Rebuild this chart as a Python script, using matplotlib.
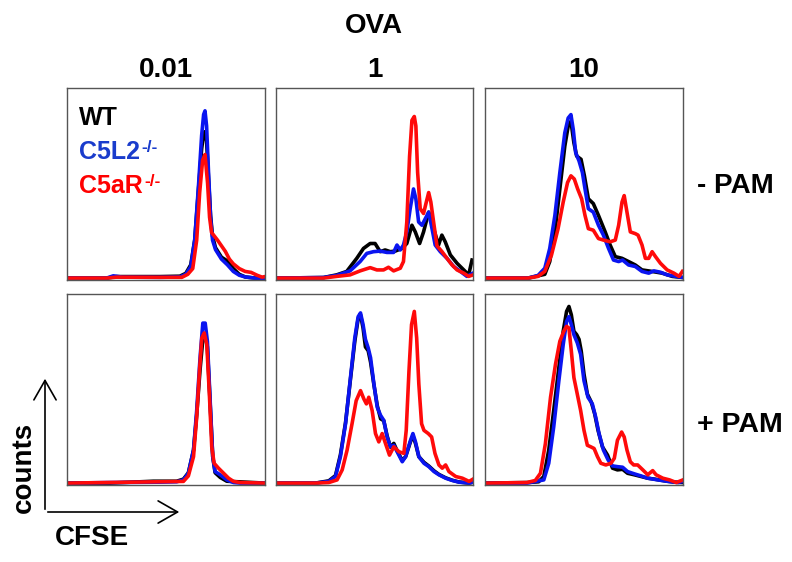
import matplotlib
matplotlib.use("Agg")
import matplotlib.pyplot as plt
from matplotlib.patches import FancyArrowPatch

plt.rcParams["font.family"] = ["Liberation Sans", "DejaVu Sans"]
plt.rcParams["font.weight"] = "bold"

# CFSE axis in % of panel width, counts in % of panel height
ova_doses = ["0.01", "1", "10"]
pam_labels = ["- PAM", "+ PAM"]
strains = ["WT", "C5L2", "C5aR"]
strain_colors = {"WT": "#000000", "C5L2": "#0a14f0", "C5aR": "#ff0a0a"}
text_colors = {"WT": "#000000", "C5L2": "#1a3ccc", "C5aR": "#ff0000"}

# -PAM, OVA 0.01
a_wt_x = [0, 20, 25, 47, 57, 60, 62.5, 64.5, 66.5, 68, 69, 69.7, 70.5, 71.5, 72.5, 73.5, 75, 78, 81, 84, 87, 90, 95, 100]
a_wt_y = [0, 0, 0.8, 0.8, 1, 2.5, 7, 20, 48, 68, 76, 77, 72, 52, 33, 22, 16, 11, 9, 5, 2, 0.6, 0, 0]
a_c5l2_x = [0, 20, 23.4, 28, 47, 57, 60, 62.5, 64.5, 66.5, 68, 69, 69.7, 70.5, 71.5, 72.5, 73.5, 75, 78, 81, 84, 87, 90, 95, 100]
a_c5l2_y = [0, 0, 1.2, 0.5, 0.4, 0.6, 2, 6, 20, 50, 75, 86, 88, 80, 55, 32, 20, 15, 10, 7, 3.5, 1.5, 0.6, 0, 0]
a_c5ar_x = [0, 20, 25, 47, 58, 61, 63.5, 65.5, 67, 68.5, 69.7, 71, 72, 73, 74.5, 76, 78, 80, 82, 84, 87, 90, 93, 96, 98.5, 100]
a_c5ar_y = [0, 0, 0.5, 0.4, 0.4, 2, 5, 20, 45, 62, 65, 50, 32, 24, 22, 20, 17, 14, 10, 7.5, 5, 3.5, 3, 1.5, 0.5, 0.8]

# -PAM, OVA 1
b_wt_x = [0, 24.1, 30.8, 35.9, 41.0, 44.4, 47.8, 50.3, 52.9, 55.4, 58.0, 60.5, 63.9, 66.4, 69.0, 70.7, 72.9, 74.9, 77.5, 80.0, 82.5, 84.2, 85.9, 88.5, 91.9, 95.3, 97.8, 99.5]
b_wt_y = [0, 0.3, 1.7, 3.5, 10.4, 15.6, 18.2, 18.2, 13.9, 14.8, 13.9, 14.2, 15.6, 18.2, 27.8, 24.3, 18.2, 24.3, 34.7, 26, 17.4, 22.6, 19.1, 12.2, 7.8, 4.3, 1.7, 9.5]
b_c5l2_x = [0, 24.1, 30.8, 37.6, 42.7, 46.1, 49.5, 52.9, 56.3, 59.7, 61.4, 63.1, 64.7, 66.4, 68.1, 69.8, 71.0, 72.4, 74.1, 75.8, 77.5, 79.2, 80.8, 83.4, 86.8, 90.2, 93.6, 96.9, 100]
b_c5l2_y = [0, 0.3, 1.4, 3.8, 8.7, 13, 13.9, 14.2, 13.5, 13.5, 17.4, 14.8, 17.4, 24.3, 36.5, 46.9, 41.7, 29.5, 27.8, 31.3, 34.7, 26, 17.4, 13.9, 10.4, 6.1, 3.5, 0.9, 2.6]
b_c5ar_x = [0, 24.1, 30.8, 37.6, 42.7, 47.8, 51.2, 54.6, 57.1, 59.7, 63.1, 64.7, 66.4, 67.8, 69.0, 70.2, 71.0, 71.9, 73.2, 74.9, 76.3, 77.5, 78.6, 80.0, 81.7, 84.2, 86.8, 89.3, 91.9, 95.3, 97.8, 100]
b_c5ar_y = [0, 0, 0.9, 1.7, 3.8, 5.5, 4.3, 4.3, 5.7, 3.8, 5.2, 8.7, 29.5, 64, 83, 85, 80, 55.5, 36.5, 34, 40, 45, 40, 29.5, 17, 14, 10.4, 7, 4.3, 2.6, 0.9, 1.7]

# -PAM, OVA 10
c_wt_x = [0, 21.7, 30.2, 32.7, 35.3, 37.8, 40.3, 42.0, 43.4, 44.9, 46.3, 48.5, 50.2, 52.2, 54.7, 57.3, 60.7, 63.2, 65.8, 69.2, 72.5, 75.9, 79.3, 84.4, 89.5, 94.6, 100]
c_wt_y = [0, 0, 2, 8.7, 24.3, 46.9, 69.4, 79.9, 82.5, 71.2, 64.2, 62.5, 53.8, 41.7, 39.2, 33, 24.3, 17.4, 11.3, 10.4, 8.7, 6.9, 4.3, 3.5, 2.6, 0.9, 0.3]
c_c5l2_x = [0, 21.7, 26.8, 30.2, 32.7, 35.3, 37.8, 40.3, 42.0, 43.4, 44.6, 45.8, 47.5, 49.2, 50.5, 52.2, 54.7, 57.3, 59.8, 62.4, 64.9, 67.5, 69.5, 72.5, 75.9, 79.3, 82.7, 85.3, 88.6, 92.0, 96.3, 100]
c_c5l2_y = [0, 0, 1.4, 5.2, 15.6, 33, 55.5, 76.4, 84.2, 86, 78, 66, 61.6, 55.5, 47, 36.5, 34.7, 27.8, 22.6, 15.6, 9.5, 8.7, 9.5, 6.9, 6.1, 3.5, 2.6, 3.8, 3.1, 1.7, 0.9, 0.3]
c_c5ar_x = [0, 21.7, 26.8, 30.2, 33.6, 36.9, 39.5, 41.7, 43.4, 45.1, 46.8, 48.8, 50.5, 52.2, 54.7, 57.3, 59.8, 63.2, 65.8, 67.5, 69.2, 70.3, 71.7, 73.4, 75.9, 77.3, 79.3, 81.0, 82.7, 84.4, 86.1, 88.6, 92.0, 95.4, 98.0, 99.7]
c_c5ar_y = [0, 0, 0.9, 3.5, 12.2, 26, 40, 50.3, 53.8, 52.1, 46.9, 41.7, 33, 26, 25.2, 20.8, 20, 19.1, 20, 27.8, 40, 43.4, 34.7, 24.3, 23.4, 22.6, 17.4, 10.4, 10.4, 13.9, 11.3, 7.8, 4.3, 2.6, 0.9, 3.5]

# +PAM, OVA 0.01
d_wt_x = [0, 21.6, 43.6, 55.4, 58.8, 61.3, 63.9, 65.5, 67.2, 68.6, 69.8, 70.9, 72.3, 73.6, 74.8, 77.4, 80.7, 100]
d_wt_y = [0, 0, 1, 1, 2.1, 5.5, 17.5, 36, 60, 76, 79, 72, 42, 14, 5.5, 3, 1, 0]
d_c5l2_x = [0, 21.6, 47.0, 55.4, 58.8, 61.3, 63.9, 65.5, 67.2, 68.6, 69.8, 70.9, 72.3, 73.6, 74.8, 77.4, 80.7, 84.1, 87.5, 100]
d_c5l2_y = [0, 0.3, 0.5, 0.7, 1.7, 5.2, 17.5, 38.4, 66.3, 84.6, 84.6, 75, 43.6, 14, 6.1, 4.4, 1.7, 0.3, 0, 0]
d_c5ar_x = [0, 58.8, 61.3, 63.9, 65.5, 66.9, 68.1, 69.3, 70.6, 71.9, 73.1, 74.3, 76.5, 79.1, 81.6, 84.1, 87.5, 100]
d_c5ar_y = [0, 0.9, 3.8, 14, 35, 59.3, 76.8, 79.4, 73.3, 47.1, 19.2, 10.5, 7.9, 5.2, 2.6, 0.9, 0.3, 0]

# +PAM, OVA 1
e_x = [0, 20.0, 26.8, 30.2, 32.7, 35.3, 37.8, 40.0, 41.7, 42.9, 44.2, 45.4, 46.8, 48.0, 49.7, 51.4, 53.1, 54.7, 56.4, 58.1, 59.8, 61.5, 64.1, 65.8, 68.3, 69.5, 70.8, 72.5, 75.1, 77.6, 80.2, 82.7, 86.1, 89.5, 92.9, 98.0, 100]
e_wt_y = [0, 0, 1.2, 4, 15, 32, 55, 75, 87, 89, 82, 72, 70, 64, 52, 41, 34, 33, 25, 19, 21, 17, 12, 14, 22, 25, 21, 14, 11, 9, 6.5, 4.6, 2.8, 1.5, 0.6, 0, 0.5]
e_c5l2_y = [0, 0, 0.9, 3.5, 14, 31.4, 55.8, 76.8, 88, 90, 83.8, 76, 71.5, 66.3, 52.4, 40.1, 35.8, 33.2, 24.4, 19.2, 20, 16.6, 11.3, 14, 22.7, 26.2, 21.8, 14, 10.5, 8.7, 6.1, 4.4, 2.6, 1.4, 0.5, 0, 0.5]
e_c5ar_x = [0, 20.0, 26.8, 31.0, 33.6, 36.1, 38.6, 40.7, 42.9, 44.6, 45.9, 47.1, 48.8, 50.5, 52.2, 53.9, 55.6, 57.6, 59.8, 62.4, 64.9, 66.1, 67.5, 68.8, 70.2, 71.4, 72.5, 73.9, 75.1, 77.3, 79.0, 80.7, 82.7, 84.4, 86.1, 87.8, 91.2, 94.6, 98.0, 100]
e_c5ar_y = [0, 0, 0.3, 1.7, 7, 17.5, 31.4, 43.6, 48.9, 44.5, 41.9, 45.4, 38.4, 26.2, 21.8, 26.2, 20.9, 14.8, 19.2, 16.6, 15.7, 27.9, 59.3, 83.8, 90.8, 76.8, 52.4, 31.4, 27.9, 26.2, 24.4, 15.7, 9.6, 7.9, 9.6, 6.1, 3.5, 2.6, 0.9, 2.1]

# +PAM, OVA 10
f_wt_x = [0, 21.2, 27.1, 29.7, 32.2, 34.7, 37.3, 39.5, 41.2, 42.4, 43.6, 44.9, 46.3, 47.5, 48.6, 50.0, 51.7, 53.7, 55.4, 57.1, 59.3, 61.9, 64.4, 66.9, 69.5, 72.0, 75.4, 78.8, 82.2, 85.6, 90.7, 95.8, 100]
f_wt_y = [0, 0.3, 0.7, 3.5, 17.5, 38.4, 61, 80.3, 90.8, 93.4, 89, 80.3, 78.5, 76, 69.8, 57.6, 47.1, 42.8, 36.6, 27.9, 19.2, 14.8, 7.9, 7, 7.3, 5.2, 4.4, 3.5, 2.6, 2.1, 1.2, 0.5, 0.3]
f_c5l2_x = [0, 21.2, 29.7, 32.2, 34.7, 37.3, 39.5, 41.2, 42.4, 43.6, 44.9, 46.6, 48.3, 50.0, 52.0, 54.2, 55.9, 57.6, 59.8, 62.2, 64.4, 66.9, 69.5, 72.0, 75.4, 78.8, 82.2, 87.3, 92.4, 97.5, 100]
f_c5l2_y = [0, 0, 1.7, 10.5, 29.7, 54.1, 73.3, 85.5, 88, 83.8, 78.5, 74.2, 68.1, 54.1, 45.4, 41.9, 34.9, 26.2, 17.5, 12.2, 9.1, 8.7, 8.4, 6.1, 4.9, 3.8, 2.6, 1.7, 0.9, 0.3, 0.9]
f_c5ar_x = [0, 21.2, 25.4, 28.0, 30.5, 33.1, 35.6, 37.8, 39.8, 41.2, 42.4, 43.6, 44.9, 46.6, 48.3, 50.0, 51.7, 53.4, 55.1, 56.8, 58.5, 61.0, 63.6, 65.3, 66.9, 69.0, 70.3, 71.7, 73.4, 75.1, 77.1, 79.7, 82.2, 84.7, 86.4, 89.8, 93.2, 96.6, 100]
f_c5ar_y = [0, 0.3, 1.4, 5.2, 20.9, 45.4, 62.8, 75, 80.3, 82.9, 82, 69.8, 55.8, 47.1, 38.4, 27.9, 20, 19.2, 18.3, 14, 10.5, 9.6, 10.5, 13.1, 22.7, 27, 24.4, 17.5, 11.3, 9.6, 9.6, 7, 4.4, 6.6, 4.4, 2.6, 1.7, 0.3, 1.7]

panels = [
    [  # -PAM row
        [(a_wt_x, a_wt_y), (a_c5l2_x, a_c5l2_y), (a_c5ar_x, a_c5ar_y)],
        [(b_wt_x, b_wt_y), (b_c5l2_x, b_c5l2_y), (b_c5ar_x, b_c5ar_y)],
        [(c_wt_x, c_wt_y), (c_c5l2_x, c_c5l2_y), (c_c5ar_x, c_c5ar_y)],
    ],
    [  # +PAM row
        [(d_wt_x, d_wt_y), (d_c5l2_x, d_c5l2_y), (d_c5ar_x, d_c5ar_y)],
        [(e_x, e_wt_y), (e_x, e_c5l2_y), (e_c5ar_x, e_c5ar_y)],
        [(f_wt_x, f_wt_y), (f_c5l2_x, f_c5l2_y), (f_c5ar_x, f_c5ar_y)],
    ],
]

W, H = 792, 562


def fx(x):
    return x / W


def fy(y):
    return 1 - y / H


fig = plt.figure(figsize=(W / 100, H / 100), dpi=100)

col_left = [67, 276, 485]
col_width = [198, 197, 198]
row_top = [88, 294]
row_bottom = [280, 485]

for r in range(2):
    for c in range(3):
        ax = fig.add_axes([fx(col_left[c]), fy(row_bottom[r]),
                           col_width[c] / W, (row_bottom[r] - row_top[r]) / H])
        for (xs, ys), s in zip(panels[r][c], strains):
            ax.plot(xs, ys, color=strain_colors[s], lw=2.6, solid_joinstyle="round")
        ax.set_xlim(0, 100)
        ax.set_ylim(-1, 100)
        ax.set_xticks([])
        ax.set_yticks([])
        for sp in ax.spines.values():
            sp.set_color("#555555")
            sp.set_linewidth(1.0)
        if r == 0 and c == 0:
            legend_ax = ax

# titles
fig.text(fx(374), fy(26), "OVA", ha="center", va="center", fontsize=20, fontweight="bold")
for c, d in enumerate(ova_doses):
    fig.text(fx(col_left[c] + col_width[c] / 2), fy(70), d, ha="center", va="center",
             fontsize=20, fontweight="bold")
fig.text(fx(697), fy(186), pam_labels[0], ha="left", va="center", fontsize=20, fontweight="bold")
fig.text(fx(697), fy(425), pam_labels[1], ha="left", va="center", fontsize=20.5, fontweight="bold")

# legend text inside first panel
for s, y in zip(strains, [118, 152, 186]):
    t = fig.text(fx(79), fy(y), s, ha="left", va="center", fontsize=18,
                 fontweight="bold", color=text_colors[s])
    if s != "WT":
        legend_ax.annotate("-/-", xy=(1, 1), xycoords=t, xytext=(1, 0),
                           textcoords="offset points", ha="left", va="top",
                           fontsize=12.5, fontweight="bold", color=text_colors[s])

# axis arrows
for end in [(45, 376), (182, 512)]:
    arr = FancyArrowPatch((fx(45), fy(512)), (fx(end[0]), fy(end[1])),
                          transform=fig.transFigure,
                          arrowstyle="->,head_length=0.7,head_width=0.4",
                          mutation_scale=20, lw=1.2, color="black")
    fig.add_artist(arr)
fig.text(fx(24), fy(467), "counts", rotation=90, ha="center", va="center",
         fontsize=20, fontweight="bold")
fig.text(fx(92), fy(538), "CFSE", ha="center", va="center", fontsize=20, fontweight="bold")

plt.savefig("out.png", dpi=100)
